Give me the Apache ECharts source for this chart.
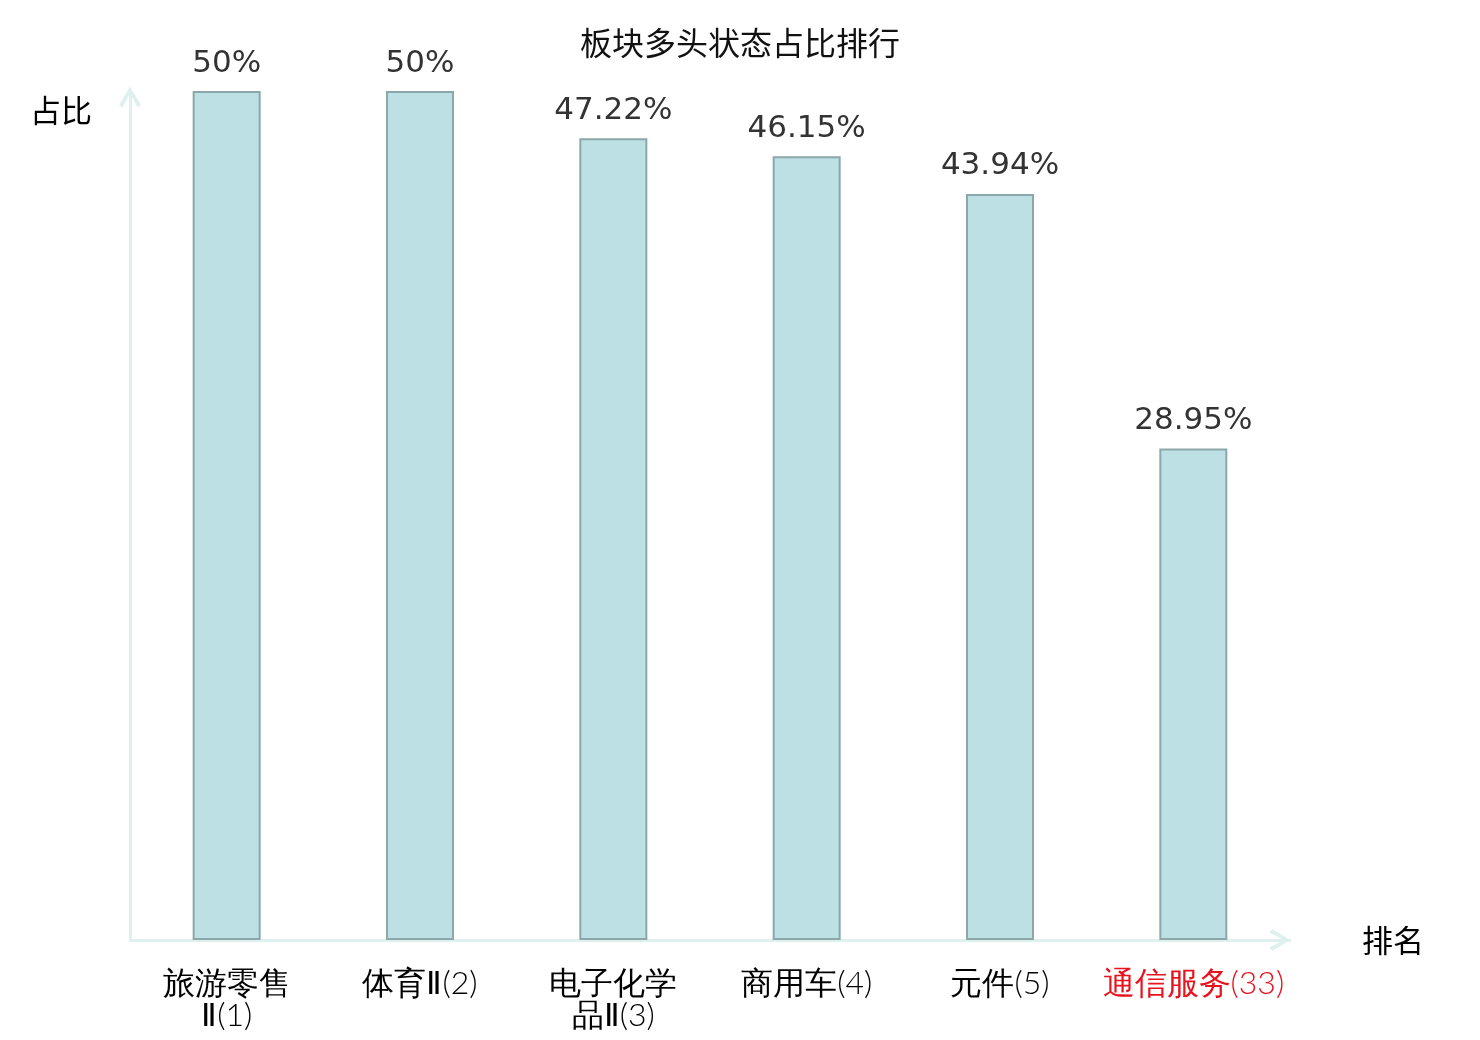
<!DOCTYPE html>
<html>
<head>
<meta charset="utf-8">
<style>html,body{margin:0;padding:0;background:#fff}#c{width:1480px;height:1040px}</style>
<script src="https://cdn.jsdelivr.net/npm/echarts@6/dist/echarts.min.js"></script>
</head>
<body>
<div id="c"></div>
<script>
const titleText = '板块多头状态占比排行';
const categories = ['旅游零售\nⅡ(1)', '体育Ⅱ(2)', '电子化学\n品Ⅱ(3)', '商用车(4)', '元件(5)', '通信服务(33)'];
const values = [50, 50, 47.22, 46.15, 43.94, 28.95];
const highlightIndex = 5;

const cjkFont = "'Noto Sans CJK SC', sans-serif";
const chevron = 'path://M11,0 L22,18.5 L18.5,21 L11,7 L3.5,21 L0,18.5 Z';
const chart = echarts.init(document.getElementById('c'));
chart.setOption({
  animation: false,
  title: {
    text: titleText, left: 'center', top: 22,
    textStyle: { fontSize: 32, fontWeight: 'normal', color: '#111', fontFamily: cjkFont }
  },
  grid: { left: 130, right: 190, top: 91, bottom: 100 },
  xAxis: {
    type: 'category',
    data: categories,
    name: '排名',
    nameLocation: 'end',
    nameGap: 72,
    nameTextStyle: { fontSize: 31, color: '#000', fontFamily: cjkFont },
    axisLine: { show: true, symbol: ['none', chevron], symbolSize: [22, 21], symbolOffset: [0, -10], lineStyle: { color: '#dff1ef', width: 3 } },
    axisTick: { show: false },
    axisLabel: {
      interval: 0, margin: 28, fontSize: 32, lineHeight: 32,
      fontFamily: 'Lato', fontWeight: 300,
      color: function (v, i) { return i === highlightIndex ? '#e6141e' : '#000'; }
    }
  },
  yAxis: {
    type: 'value', min: 0, max: 50,
    name: '占比',
    nameLocation: 'end',
    nameGap: -19,
    nameTextStyle: { fontSize: 31, color: '#000', fontFamily: cjkFont, align: 'right', verticalAlign: 'middle', padding: [0, 38, 0, 0] },
    axisLine: { show: true, symbol: ['none', chevron], symbolSize: [22, 21], symbolOffset: [0, -6], lineStyle: { color: '#dff1ef', width: 3 } },
    axisTick: { show: false },
    axisLabel: { show: false },
    splitLine: { show: false }
  },
  series: [{
    type: 'bar',
    data: values,
    barWidth: 68,
    itemStyle: { color: '#bce0e3', borderColor: '#8ba7a9', borderWidth: 2 },
    label: {
      show: true, position: 'top', distance: 12,
      formatter: function (p) { return p.value + '%'; },
      fontSize: 31, color: '#333', fontFamily: 'DejaVu Sans'
    }
  }]
});
</script>
</body>
</html>
